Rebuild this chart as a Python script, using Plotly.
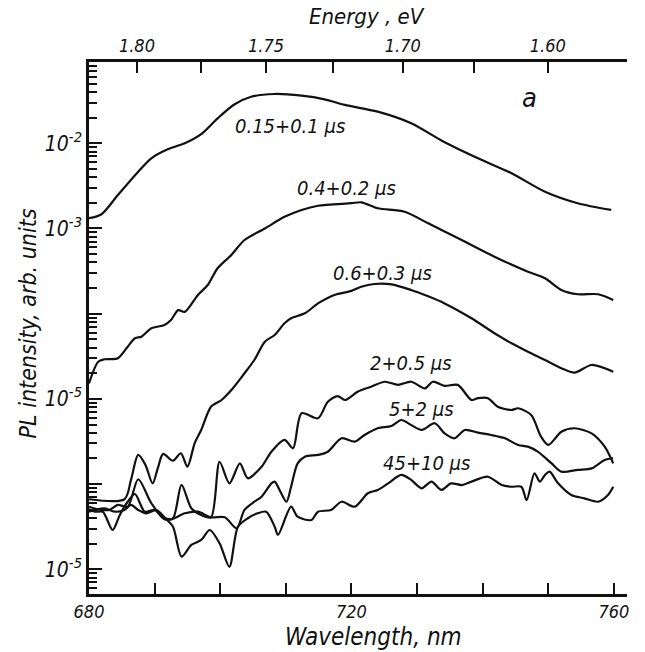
import plotly.graph_objects as go

# ---------------- data ----------------
# wavelength (nm) / PL intensity (arb. units)
wl_015 = [680.0, 681.9, 684.4, 687.5, 689.5, 692.0, 694.6, 697.1, 699.6, 702.2, 704.7, 708.3,
          712.4, 715.9, 719.0, 724.0, 729.1, 734.2, 739.3, 744.4, 749.5, 754.5, 759.6]
pl_015 = [1.32e-3, 1.47e-3, 2.47e-3, 4.64e-3, 6.67e-3, 8.5e-3, 1.0e-2, 1.28e-2, 1.96e-2, 2.87e-2,
          3.52e-2, 3.79e-2, 3.62e-2, 3.28e-2, 2.82e-2, 2.35e-2, 1.72e-2, 1.03e-2, 6.67e-3, 4.45e-3,
          2.70e-3, 1.98e-3, 1.65e-3]

wl_04 = [680.0, 681.4, 682.4, 684.4, 685.9, 687.0, 688.0, 689.5, 691.5, 692.5, 693.6, 694.6,
         696.6, 698.1, 699.6, 701.7, 703.7, 706.8, 709.8, 712.4, 714.9, 720.0, 721.5, 724.0,
         728.1, 731.7, 736.8, 741.8, 746.9, 749.5, 752.0, 754.5, 757.6, 759.9]
pl_04 = [1.52e-5, 2.73e-5, 2.92e-5, 3.0e-5, 4.10e-5, 5.14e-5, 5.37e-5, 6.74e-5, 7.36e-5, 8.43e-5,
         1.10e-4, 1.05e-4, 1.66e-4, 2.17e-4, 3.41e-4, 4.89e-4, 7.33e-4, 1.00e-3, 1.37e-3, 1.65e-3,
         1.85e-3, 1.98e-3, 2.03e-3, 1.73e-3, 1.57e-3, 1.15e-3, 7.33e-4, 4.67e-4, 3.11e-4, 2.60e-4,
         1.90e-4, 1.69e-4, 1.69e-4, 1.45e-4]

wl_06 = [680.0, 685.4, 686.4, 687.5, 688.6, 689.7, 690.5, 691.3, 692.8, 694.0, 695.0, 696.1,
         697.1, 698.6, 700.2, 701.7, 703.7, 705.2, 706.8, 708.3, 709.8, 710.8, 712.9, 714.9,
         717.4, 720.0, 721.5, 723.5, 726.1, 729.1, 731.6, 734.2, 738.3, 741.8, 744.4, 746.9,
         749.5, 752.0, 754.0, 756.6, 759.9]
pl_06 = [6.64e-7, 6.64e-7, 1.12e-6, 2.20e-6, 1.68e-6, 1.02e-6, 1.55e-6, 2.26e-6, 1.88e-6, 2.30e-6,
         1.60e-6, 3.01e-6, 4.32e-6, 8.10e-6, 9.70e-6, 1.27e-5, 2.00e-5, 2.86e-5, 4.69e-5, 5.62e-5,
         7.71e-5, 8.83e-5, 1.01e-4, 1.32e-4, 1.66e-4, 1.85e-4, 2.07e-4, 2.23e-4, 2.21e-4, 1.90e-4,
         1.61e-4, 1.32e-4, 8.83e-5, 5.89e-5, 4.50e-5, 3.58e-5, 2.86e-5, 2.29e-5, 2.03e-5, 2.50e-5,
         2.08e-5]

wl_2 = [680.0, 681.4, 683.1, 684.4, 685.9, 687.5, 689.5, 691.5, 692.8, 694.1, 695.6, 697.1,
        698.6, 699.9, 701.4, 703.0, 704.2, 706.3, 707.8, 709.8, 711.1, 712.4, 714.9, 716.4,
        717.9, 719.0, 721.0, 723.0, 725.1, 727.1, 729.1, 731.2, 732.4, 734.2, 736.2, 738.3,
        739.3, 740.8, 742.3, 744.4, 745.4, 747.4, 748.9, 750.0, 752.0, 754.0, 756.6, 758.6, 759.9]
pl_2 = [5.43e-7, 5.06e-7, 4.97e-7, 5.69e-7, 5.43e-7, 1.14e-6, 5.96e-7, 3.86e-7, 3.97e-7, 9.77e-7,
        5.20e-7, 4.34e-7, 4.07e-7, 1.83e-6, 1.02e-6, 1.75e-6, 1.17e-6, 1.60e-6, 2.40e-6, 3.30e-6,
        2.63e-6, 6.78e-6, 5.92e-6, 9.27e-6, 1.08e-5, 9.70e-6, 1.22e-5, 1.39e-5, 1.59e-5, 1.46e-5,
        1.59e-5, 1.33e-5, 1.59e-5, 1.42e-5, 1.46e-5, 9.70e-6, 1.02e-5, 1.02e-5, 8.10e-6, 7.41e-6,
        7.76e-6, 6.47e-6, 3.60e-6, 2.88e-6, 4.12e-6, 4.52e-6, 3.94e-6, 2.75e-6, 1.75e-6]

wl_5 = [680.0, 680.9, 682.1, 683.6, 684.7, 685.9, 687.0, 688.5, 690.0, 691.3, 692.5, 694.6,
        696.6, 698.6, 700.7, 702.5, 703.7, 705.2, 706.3, 707.8, 708.3, 709.2, 710.1, 710.8,
        711.8, 712.9, 714.9, 716.4, 718.5, 720.5, 722.0, 724.0, 726.1, 727.6, 729.1, 730.7,
        732.7, 734.2, 735.7, 737.3, 739.3, 741.3, 743.4, 745.4, 746.9, 748.4, 750.5, 752.0,
        754.5, 756.6, 758.6, 759.9]
pl_5 = [5.06e-7, 4.74e-7, 4.74e-7, 2.89e-7, 4.34e-7, 6.21e-7, 7.65e-7, 4.74e-7, 4.97e-7, 4.07e-7,
        3.86e-7, 4.54e-7, 4.74e-7, 4.07e-7, 4.07e-7, 3.03e-7, 4.97e-7, 6.21e-7, 7.11e-7, 1.02e-6,
        1.07e-6, 8.07e-7, 6.21e-7, 9.31e-7, 1.75e-6, 2.10e-6, 2.20e-6, 2.40e-6, 3.45e-6, 3.15e-6,
        3.77e-6, 4.52e-6, 4.81e-6, 5.65e-6, 4.94e-6, 4.32e-6, 5.18e-6, 3.94e-6, 3.45e-6, 4.32e-6,
        4.01e-6, 3.77e-6, 3.45e-6, 2.88e-6, 2.75e-6, 2.40e-6, 1.75e-6, 1.40e-6, 1.47e-6, 1.53e-6,
        1.92e-6, 2.01e-6]

wl_45 = [680.0, 680.9, 682.4, 683.9, 685.4, 686.4, 687.5, 688.7, 690.3, 691.5, 692.8, 694.1,
         695.6, 697.1, 698.4, 699.9, 701.4, 702.7, 704.2, 705.7, 707.0, 708.3, 708.8, 710.8,
         711.8, 713.9, 714.9, 716.9, 718.5, 720.5, 722.5, 724.0, 725.6, 727.6, 729.1, 730.7,
         732.2, 733.7, 735.2, 736.8, 738.3, 740.8, 742.9, 744.4, 745.9, 746.7, 747.9, 748.7,
         749.5, 750.2, 751.5, 753.5, 755.5, 757.6, 759.1, 759.9]
pl_45 = [4.74e-7, 4.97e-7, 5.20e-7, 4.74e-7, 4.97e-7, 5.69e-7, 4.97e-7, 4.54e-7, 4.97e-7, 4.07e-7,
         3.16e-7, 1.41e-7, 1.93e-7, 2.21e-7, 2.89e-7, 2.02e-7, 1.07e-7, 3.16e-7, 3.97e-7, 4.54e-7,
         4.74e-7, 3.16e-7, 2.53e-7, 5.43e-7, 4.14e-7, 3.79e-7, 4.74e-7, 4.97e-7, 6.21e-7, 5.43e-7,
         7.80e-7, 8.53e-7, 1.02e-6, 1.28e-6, 1.12e-6, 8.93e-7, 1.07e-6, 8.53e-7, 1.02e-6, 9.75e-7,
         1.07e-6, 1.22e-6, 9.75e-7, 9.31e-7, 9.31e-7, 6.50e-7, 1.34e-6, 1.07e-6, 1.28e-6, 1.40e-6,
         1.02e-6, 7.45e-7, 6.81e-7, 6.21e-7, 7.45e-7, 9.31e-7]

series_labels = ["0.15+0.1 µs", "0.4+0.2 µs", "0.6+0.3 µs", "2+0.5 µs", "5+2 µs", "45+10 µs"]

# axis ticks (labels as printed in the original figure)
wl_label_ticks = [680, 720, 760]
wl_plain_ticks = [690, 700, 710, 730, 740, 750]
energy_label_ticks = [1.80, 1.75, 1.70, 1.65]
energy_ticktext = ["1.80", "1.75", "1.70", "1.60"]
energy_plain_ticks = [1.775, 1.725, 1.675]
y_label_ticks = [1e-2, 1e-3, 1e-5, 1e-7]
y_ticktext = ["10<sup>-2</sup>", "10<sup>-3</sup>", "10<sup>-5</sup>", "10<sup>-5</sup>"]
y_plain_decades = [1e-4, 1e-6]

# ---------------- figure ----------------
FONT = "DejaVu Sans Condensed, Liberation Sans Narrow, DejaVu Sans, sans-serif"
INK = "#111111"

fig = go.Figure()
curves = [(wl_015, pl_015), (wl_04, pl_04), (wl_06, pl_06), (wl_2, pl_2), (wl_5, pl_5), (wl_45, pl_45)]
for (xs, ys), name in zip(curves, series_labels):
    fig.add_trace(go.Scatter(x=xs, y=ys, mode="lines", name=name,
                             line=dict(color=INK, width=2.2, shape="spline", smoothing=0.8),
                             showlegend=False, hoverinfo="skip"))

# invisible carrier trace for the top (energy) axis and the extra decade ticks
fig.add_trace(go.Scatter(x=wl_015, y=pl_015, xaxis="x2", yaxis="y2", mode="lines",
                         line=dict(width=0, color="rgba(0,0,0,0)"), hoverinfo="skip",
                         showlegend=False))

lam_per_ev = 1239.84
minor_y = [k * 10.0 ** n for n in range(-8, -1) for k in range(2, 10)]
yr = [-7.29, -1.046]

tickfont = dict(family=FONT, size=18, color=INK, style="italic")
ytickfont = dict(family=FONT, size=21, color=INK, style="italic")

fig.update_layout(
    width=645, height=652, autosize=False,
    margin=dict(l=89, r=18, t=62, b=58),
    paper_bgcolor="white", plot_bgcolor="white",
    xaxis=dict(range=[680, 762], tickmode="array", tickvals=wl_label_ticks,
               ticktext=[str(v) for v in wl_label_ticks],
               ticks="inside", ticklen=11, tickwidth=2, tickcolor=INK,
               minor=dict(tickmode="array", tickvals=wl_plain_ticks, ticks="inside", ticklen=11,
                          tickwidth=2, tickcolor=INK, showgrid=False),
               showline=True, linewidth=2.5, linecolor=INK, mirror=False,
               showgrid=False, zeroline=False, tickfont=tickfont),
    xaxis2=dict(overlaying="x", side="top", range=[681.5, 763.5], tickmode="array",
                tickvals=[lam_per_ev / e for e in energy_label_ticks], ticktext=energy_ticktext,
                ticks="inside", ticklen=11, tickwidth=2, tickcolor=INK,
                minor=dict(tickmode="array", tickvals=[lam_per_ev / e for e in energy_plain_ticks],
                           ticks="inside", ticklen=11, tickwidth=2, tickcolor=INK, showgrid=False),
                showline=True, linewidth=2.5, linecolor=INK,
                showgrid=False, zeroline=False, tickfont=tickfont),
    yaxis=dict(type="log", range=yr, tickmode="array", tickvals=y_label_ticks,
               ticktext=y_ticktext, ticks="inside", ticklen=13, tickwidth=2, tickcolor=INK,
               minor=dict(tickmode="array", tickvals=minor_y, ticks="inside", ticklen=8,
                          tickwidth=1.5, tickcolor=INK, showgrid=False),
               showline=True, linewidth=2.5, linecolor=INK, mirror=False,
               showgrid=False, zeroline=False, tickfont=ytickfont),
    yaxis2=dict(type="log", range=yr, overlaying="y", side="left", anchor="x",
                tickmode="array", tickvals=y_plain_decades, showticklabels=False,
                ticks="inside", ticklen=13, tickwidth=2, tickcolor=INK,
                showline=False, showgrid=False, zeroline=False),
)

labfont = dict(family=FONT, size=20, color=INK, style="italic")
label_pos = [(710.7, -1.797), (719.3, -2.525), (724.8, -3.522), (729.1, -4.578), (730.7, -5.118), (731.5, -5.752)]
for (lx, ly), txt in zip(label_pos, series_labels):
    fig.add_annotation(x=lx, y=ly, xref="x", yref="y", text=txt, showarrow=False,
                       font=labfont, xanchor="center", yanchor="middle")

fig.add_annotation(x=747.2, y=-1.468, xref="x", yref="y", text="a", showarrow=False,
                   font=dict(family=FONT, size=27, color=INK, style="italic"))

fig.add_annotation(x=0.528, y=-0.081, xref="paper", yref="paper", text="Wavelength, nm",
                   showarrow=False, font=dict(family=FONT, size=24, color=INK, style="italic"),
                   xanchor="center", yanchor="middle")
fig.add_annotation(x=0.517, y=1.085, xref="paper", yref="paper", text="Energy , eV",
                   showarrow=False, font=dict(family=FONT, size=22, color=INK, style="italic"),
                   xanchor="center", yanchor="middle")
fig.add_annotation(x=-0.113, y=0.509, xref="paper", yref="paper", text="PL intensity, arb. units",
                   showarrow=False, font=dict(family=FONT, size=23, color=INK, style="italic"),
                   textangle=-90, xanchor="center", yanchor="middle")

fig.write_html("out.html")
